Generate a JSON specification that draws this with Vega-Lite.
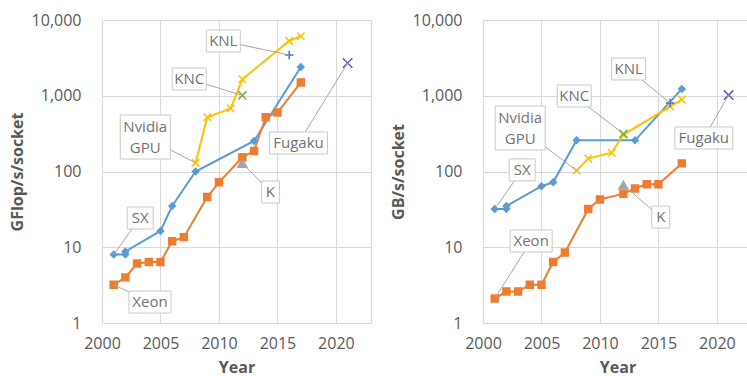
{
  "$schema": "https://vega.github.io/schema/vega-lite/v6.json",
  "background": "white",
  "padding": {"left": 8, "top": 11, "right": 0, "bottom": 0},
  "spacing": 17,
  "config": {
    "view": {"stroke": "#d9d9d9", "strokeWidth": 1},
    "font": "Open Sans",
    "axis": {
      "gridColor": "#d9d9d9", "gridWidth": 1, "domain": false, "ticks": false, "labelFlush": false,
      "labelColor": "#595959", "labelFontSize": 16, "labelFont": "Open Sans",
      "titleColor": "#595959", "titleFontSize": 16, "titleFont": "Open Sans", "titleFontWeight": "bold"
    }
  },
  "datasets": {
    "flops": [
      {"s": "SX", "year": 2001, "v": 8.0}, {"s": "SX", "year": 2002, "v": 8.0}, {"s": "SX", "year": 2002, "v": 8.8},
      {"s": "SX", "year": 2005, "v": 16.4}, {"s": "SX", "year": 2006, "v": 35}, {"s": "SX", "year": 2008, "v": 100},
      {"s": "SX", "year": 2013, "v": 253}, {"s": "SX", "year": 2017, "v": 2400},
      {"s": "Xeon", "year": 2001, "v": 3.2}, {"s": "Xeon", "year": 2002, "v": 4.0}, {"s": "Xeon", "year": 2003, "v": 6.1},
      {"s": "Xeon", "year": 2004, "v": 6.4}, {"s": "Xeon", "year": 2005, "v": 6.4}, {"s": "Xeon", "year": 2006, "v": 12},
      {"s": "Xeon", "year": 2007, "v": 13.6}, {"s": "Xeon", "year": 2009, "v": 46}, {"s": "Xeon", "year": 2010, "v": 72},
      {"s": "Xeon", "year": 2012, "v": 154}, {"s": "Xeon", "year": 2013, "v": 187}, {"s": "Xeon", "year": 2014, "v": 520},
      {"s": "Xeon", "year": 2015, "v": 600}, {"s": "Xeon", "year": 2017, "v": 1500},
      {"s": "Nvidia", "year": 2008, "v": 130}, {"s": "Nvidia", "year": 2009, "v": 520}, {"s": "Nvidia", "year": 2011, "v": 680},
      {"s": "Nvidia", "year": 2012, "v": 1650}, {"s": "Nvidia", "year": 2016, "v": 5300}, {"s": "Nvidia", "year": 2017, "v": 6100},
      {"s": "KNC", "year": 2012, "v": 1010},
      {"s": "KNL", "year": 2016, "v": 3450},
      {"s": "K", "year": 2012, "v": 128},
      {"s": "Fugaku", "year": 2021, "v": 2700}
    ],
    "bw": [
      {"s": "SX", "year": 2001, "v": 32}, {"s": "SX", "year": 2002, "v": 32}, {"s": "SX", "year": 2002, "v": 35},
      {"s": "SX", "year": 2005, "v": 64}, {"s": "SX", "year": 2006, "v": 72}, {"s": "SX", "year": 2008, "v": 258},
      {"s": "SX", "year": 2013, "v": 258}, {"s": "SX", "year": 2017, "v": 1230},
      {"s": "Xeon", "year": 2001, "v": 2.1}, {"s": "Xeon", "year": 2002, "v": 2.6}, {"s": "Xeon", "year": 2003, "v": 2.6},
      {"s": "Xeon", "year": 2004, "v": 3.2}, {"s": "Xeon", "year": 2005, "v": 3.2}, {"s": "Xeon", "year": 2006, "v": 6.4},
      {"s": "Xeon", "year": 2007, "v": 8.5}, {"s": "Xeon", "year": 2009, "v": 32}, {"s": "Xeon", "year": 2010, "v": 42.7},
      {"s": "Xeon", "year": 2012, "v": 51}, {"s": "Xeon", "year": 2013, "v": 59.7}, {"s": "Xeon", "year": 2014, "v": 68},
      {"s": "Xeon", "year": 2015, "v": 68}, {"s": "Xeon", "year": 2017, "v": 128},
      {"s": "Nvidia", "year": 2008, "v": 103}, {"s": "Nvidia", "year": 2009, "v": 148}, {"s": "Nvidia", "year": 2011, "v": 177},
      {"s": "Nvidia", "year": 2012, "v": 305}, {"s": "Nvidia", "year": 2016, "v": 720}, {"s": "Nvidia", "year": 2017, "v": 890},
      {"s": "KNC", "year": 2012, "v": 315},
      {"s": "KNL", "year": 2016, "v": 800},
      {"s": "K", "year": 2012, "v": 66},
      {"s": "Fugaku", "year": 2021, "v": 1020}
    ],
    "flopsAnn": [
      {"label": "SX", "tx": 2003.26, "tv": 24.3, "px": 2001, "pv": 8},
      {"label": "Xeon", "tx": 2004.1, "tv": 1.89, "px": 2001, "pv": 3.2},
      {"label": "Nvidia GPU", "tx": 2003.7, "tv": 285, "px": 2008, "pv": 130},
      {"label": "KNC", "tx": 2007.46, "tv": 1664, "px": 2012, "pv": 1010},
      {"label": "KNL", "tx": 2010.37, "tv": 5280, "px": 2016, "pv": 3450},
      {"label": "Fugaku", "tx": 2016.8, "tv": 238, "px": 2021, "pv": 2700},
      {"label": "K", "tx": 2014.4, "tv": 53.6, "px": 2012, "pv": 128}
    ],
    "bwAnn": [
      {"label": "KNL", "tx": 2012.45, "tv": 2255, "px": 2016, "pv": 800},
      {"label": "KNC", "tx": 2007.8, "tv": 993, "px": 2012, "pv": 315},
      {"label": "Nvidia GPU", "tx": 2003.18, "tv": 375, "px": 2008, "pv": 103},
      {"label": "SX", "tx": 2003.35, "tv": 105, "px": 2001, "pv": 32},
      {"label": "Xeon", "tx": 2004.12, "tv": 12.1, "px": 2001, "pv": 2.1},
      {"label": "Fugaku", "tx": 2018.88, "tv": 277, "px": 2021, "pv": 1020},
      {"label": "K", "tx": 2015.2, "tv": 25, "px": 2012, "pv": 66}
    ]
  },
  "hconcat": [
    {
      "width": 269, "height": 303,
      "layer": [
        {
          "data": {"name": "flops"},
          "transform": [{"filter": "indexof(['SX','Xeon','Nvidia'], datum.s) >= 0"}],
          "mark": {"type": "line", "strokeWidth": 2},
          "encoding": {
            "x": {"field": "year", "type": "quantitative", "title": "Year", "scale": {"domain": [2000, 2023], "nice": false, "zero": false}, "axis": {"values": [2000, 2005, 2010, 2015, 2020], "format": "d", "labelPadding": 12, "titlePadding": 8}},
            "y": {"field": "v", "type": "quantitative", "title": "GFlop/s/socket", "scale": {"type": "log", "domain": [1, 10000]}, "axis": {"values": [1, 10, 100, 1000, 10000], "format": ",", "labelPadding": 21, "titlePadding": 6}},
            "color": {"field": "s", "type": "nominal", "legend": null, "scale": {"domain": ["SX", "Xeon", "Nvidia", "KNC", "KNL", "K", "Fugaku"], "range": ["#5B9BD5", "#ED7D31", "#FFC000", "#70AD47", "#4472C4", "#A5A5A5", "#5B5BB5"]}}
          }
        },
        {
          "data": {"name": "flops"},
          "mark": {"type": "point", "filled": true, "strokeWidth": 1.5, "opacity": 1},
          "encoding": {
            "x": {"field": "year", "type": "quantitative", "title": "Year"},
            "y": {"field": "v", "type": "quantitative", "title": "GFlop/s/socket"},
            "fill": {"field": "s", "type": "nominal", "legend": null, "scale": {"domain": ["SX", "Xeon", "Nvidia", "KNC", "KNL", "K", "Fugaku"], "range": ["#5B9BD5", "#ED7D31", "#FFC000", "#70AD47", "#4472C4", "#A5A5A5", "#5B5BB5"]}},
            "stroke": {"field": "s", "type": "nominal", "legend": null, "scale": {"domain": ["SX", "Xeon", "Nvidia", "KNC", "KNL", "K", "Fugaku"], "range": ["#5B9BD5", "#ED7D31", "#FFC000", "#70AD47", "#4472C4", "#A5A5A5", "#5B5BB5"]}},
            "shape": {"field": "s", "type": "nominal", "legend": null, "scale": {"domain": ["SX", "Xeon", "Nvidia", "KNC", "KNL", "K", "Fugaku"], "range": ["diamond", "square", "M-1,-1L1,1M-1,1L1,-1", "M-1,-1L1,1M-1,1L1,-1", "M-1,0H1M0,-1V1", "triangle-up", "M-1,-1L1,1M-1,1L1,-1"]}},
            "size": {"field": "s", "type": "nominal", "legend": null, "scale": {"domain": ["SX", "Xeon", "Nvidia", "KNC", "KNL", "K", "Fugaku"], "range": [40, 90, 40, 60, 60, 60, 60]}}
          }
        },
        {
          "data": {"name": "flopsAnn"},
          "mark": {"type": "rule", "color": "#a6a6a6", "strokeWidth": 1},
          "encoding": {
            "x": {"field": "tx", "type": "quantitative", "title": "Year"},
            "y": {"field": "tv", "type": "quantitative", "title": "GFlop/s/socket"},
            "x2": {"field": "px"},
            "y2": {"field": "pv"}
          }
        },
        {
          "data": {"name": "flopsAnn"},
          "transform": [
            {"calculate": "split(datum.label, ' ')", "as": "lines"},
            {"calculate": "length(datum.lines) > 1 ? max(length(datum.lines[0]), length(datum.lines[1])) : length(datum.label)", "as": "maxlen"},
            {"calculate": "length(datum.lines) > 1 ? 50 : 10 + 8 * datum.maxlen", "as": "bw"},
            {"calculate": "length(datum.lines) > 1 ? 44 : 22", "as": "bh"},
            {"calculate": "'M-1,' + (-datum.bh / datum.bw) + 'H1V' + (datum.bh / datum.bw) + 'H-1Z'", "as": "bshape"},
            {"calculate": "datum.bw * datum.bw", "as": "bsize"}
          ],
          "mark": {"type": "point", "filled": true, "fill": "white", "stroke": "#c8c8c8", "strokeWidth": 1, "opacity": 1},
          "encoding": {
            "x": {"field": "tx", "type": "quantitative", "title": "Year"},
            "y": {"field": "tv", "type": "quantitative", "title": "GFlop/s/socket"},
            "shape": {"field": "bshape", "type": "nominal", "scale": null},
            "size": {"field": "bsize", "type": "quantitative", "scale": null}
          }
        },
        {
          "data": {"name": "flopsAnn"},
          "transform": [{"filter": "indexof(datum.label, ' ') < 0"}],
          "mark": {"type": "text", "fontSize": 15, "color": "#767171", "align": "center", "baseline": "middle", "font": "Open Sans"},
          "encoding": {
            "x": {"field": "tx", "type": "quantitative", "title": "Year"},
            "y": {"field": "tv", "type": "quantitative", "title": "GFlop/s/socket"},
            "text": {"field": "label"}
          }
        },
        {
          "data": {"name": "flopsAnn"},
          "transform": [{"filter": "indexof(datum.label, ' ') >= 0"}, {"calculate": "split(datum.label, ' ')", "as": "lines"}],
          "mark": {"type": "text", "fontSize": 15, "color": "#767171", "align": "center", "baseline": "middle", "lineHeight": 21, "dy": -10.5, "font": "Open Sans"},
          "encoding": {
            "x": {"field": "tx", "type": "quantitative", "title": "Year"},
            "y": {"field": "tv", "type": "quantitative", "title": "GFlop/s/socket"},
            "text": {"field": "lines"}
          }
        }
      ]
    },
    {
      "width": 269, "height": 303,
      "layer": [
        {
          "data": {"name": "bw"},
          "transform": [{"filter": "indexof(['SX','Xeon','Nvidia'], datum.s) >= 0"}],
          "mark": {"type": "line", "strokeWidth": 2},
          "encoding": {
            "x": {"field": "year", "type": "quantitative", "title": "Year", "scale": {"domain": [2000, 2023], "nice": false, "zero": false}, "axis": {"values": [2000, 2005, 2010, 2015, 2020], "format": "d", "labelPadding": 12, "titlePadding": 8}},
            "y": {"field": "v", "type": "quantitative", "title": "GB/s/socket", "scale": {"type": "log", "domain": [1, 10000]}, "axis": {"values": [1, 10, 100, 1000, 10000], "format": ",", "labelPadding": 21, "titlePadding": 6}},
            "color": {"field": "s", "type": "nominal", "legend": null, "scale": {"domain": ["SX", "Xeon", "Nvidia", "KNC", "KNL", "K", "Fugaku"], "range": ["#5B9BD5", "#ED7D31", "#FFC000", "#70AD47", "#4472C4", "#A5A5A5", "#5B5BB5"]}}
          }
        },
        {
          "data": {"name": "bw"},
          "mark": {"type": "point", "filled": true, "strokeWidth": 1.5, "opacity": 1},
          "encoding": {
            "x": {"field": "year", "type": "quantitative", "title": "Year"},
            "y": {"field": "v", "type": "quantitative", "title": "GB/s/socket"},
            "fill": {"field": "s", "type": "nominal", "legend": null, "scale": {"domain": ["SX", "Xeon", "Nvidia", "KNC", "KNL", "K", "Fugaku"], "range": ["#5B9BD5", "#ED7D31", "#FFC000", "#70AD47", "#4472C4", "#A5A5A5", "#5B5BB5"]}},
            "stroke": {"field": "s", "type": "nominal", "legend": null, "scale": {"domain": ["SX", "Xeon", "Nvidia", "KNC", "KNL", "K", "Fugaku"], "range": ["#5B9BD5", "#ED7D31", "#FFC000", "#70AD47", "#4472C4", "#A5A5A5", "#5B5BB5"]}},
            "shape": {"field": "s", "type": "nominal", "legend": null, "scale": {"domain": ["SX", "Xeon", "Nvidia", "KNC", "KNL", "K", "Fugaku"], "range": ["diamond", "square", "M-1,-1L1,1M-1,1L1,-1", "M-1,-1L1,1M-1,1L1,-1", "M-1,0H1M0,-1V1", "triangle-up", "M-1,-1L1,1M-1,1L1,-1"]}},
            "size": {"field": "s", "type": "nominal", "legend": null, "scale": {"domain": ["SX", "Xeon", "Nvidia", "KNC", "KNL", "K", "Fugaku"], "range": [40, 90, 40, 60, 60, 60, 60]}}
          }
        },
        {
          "data": {"name": "bwAnn"},
          "mark": {"type": "rule", "color": "#a6a6a6", "strokeWidth": 1},
          "encoding": {
            "x": {"field": "tx", "type": "quantitative", "title": "Year"},
            "y": {"field": "tv", "type": "quantitative", "title": "GB/s/socket"},
            "x2": {"field": "px"},
            "y2": {"field": "pv"}
          }
        },
        {
          "data": {"name": "bwAnn"},
          "transform": [
            {"calculate": "split(datum.label, ' ')", "as": "lines"},
            {"calculate": "length(datum.lines) > 1 ? max(length(datum.lines[0]), length(datum.lines[1])) : length(datum.label)", "as": "maxlen"},
            {"calculate": "length(datum.lines) > 1 ? 50 : 10 + 8 * datum.maxlen", "as": "bw"},
            {"calculate": "length(datum.lines) > 1 ? 44 : 22", "as": "bh"},
            {"calculate": "'M-1,' + (-datum.bh / datum.bw) + 'H1V' + (datum.bh / datum.bw) + 'H-1Z'", "as": "bshape"},
            {"calculate": "datum.bw * datum.bw", "as": "bsize"}
          ],
          "mark": {"type": "point", "filled": true, "fill": "white", "stroke": "#c8c8c8", "strokeWidth": 1, "opacity": 1},
          "encoding": {
            "x": {"field": "tx", "type": "quantitative", "title": "Year"},
            "y": {"field": "tv", "type": "quantitative", "title": "GB/s/socket"},
            "shape": {"field": "bshape", "type": "nominal", "scale": null},
            "size": {"field": "bsize", "type": "quantitative", "scale": null}
          }
        },
        {
          "data": {"name": "bwAnn"},
          "transform": [{"filter": "indexof(datum.label, ' ') < 0"}],
          "mark": {"type": "text", "fontSize": 15, "color": "#767171", "align": "center", "baseline": "middle", "font": "Open Sans"},
          "encoding": {
            "x": {"field": "tx", "type": "quantitative", "title": "Year"},
            "y": {"field": "tv", "type": "quantitative", "title": "GB/s/socket"},
            "text": {"field": "label"}
          }
        },
        {
          "data": {"name": "bwAnn"},
          "transform": [{"filter": "indexof(datum.label, ' ') >= 0"}, {"calculate": "split(datum.label, ' ')", "as": "lines"}],
          "mark": {"type": "text", "fontSize": 15, "color": "#767171", "align": "center", "baseline": "middle", "lineHeight": 21, "dy": -10.5, "font": "Open Sans"},
          "encoding": {
            "x": {"field": "tx", "type": "quantitative", "title": "Year"},
            "y": {"field": "tv", "type": "quantitative", "title": "GB/s/socket"},
            "text": {"field": "lines"}
          }
        }
      ]
    }
  ]
}
